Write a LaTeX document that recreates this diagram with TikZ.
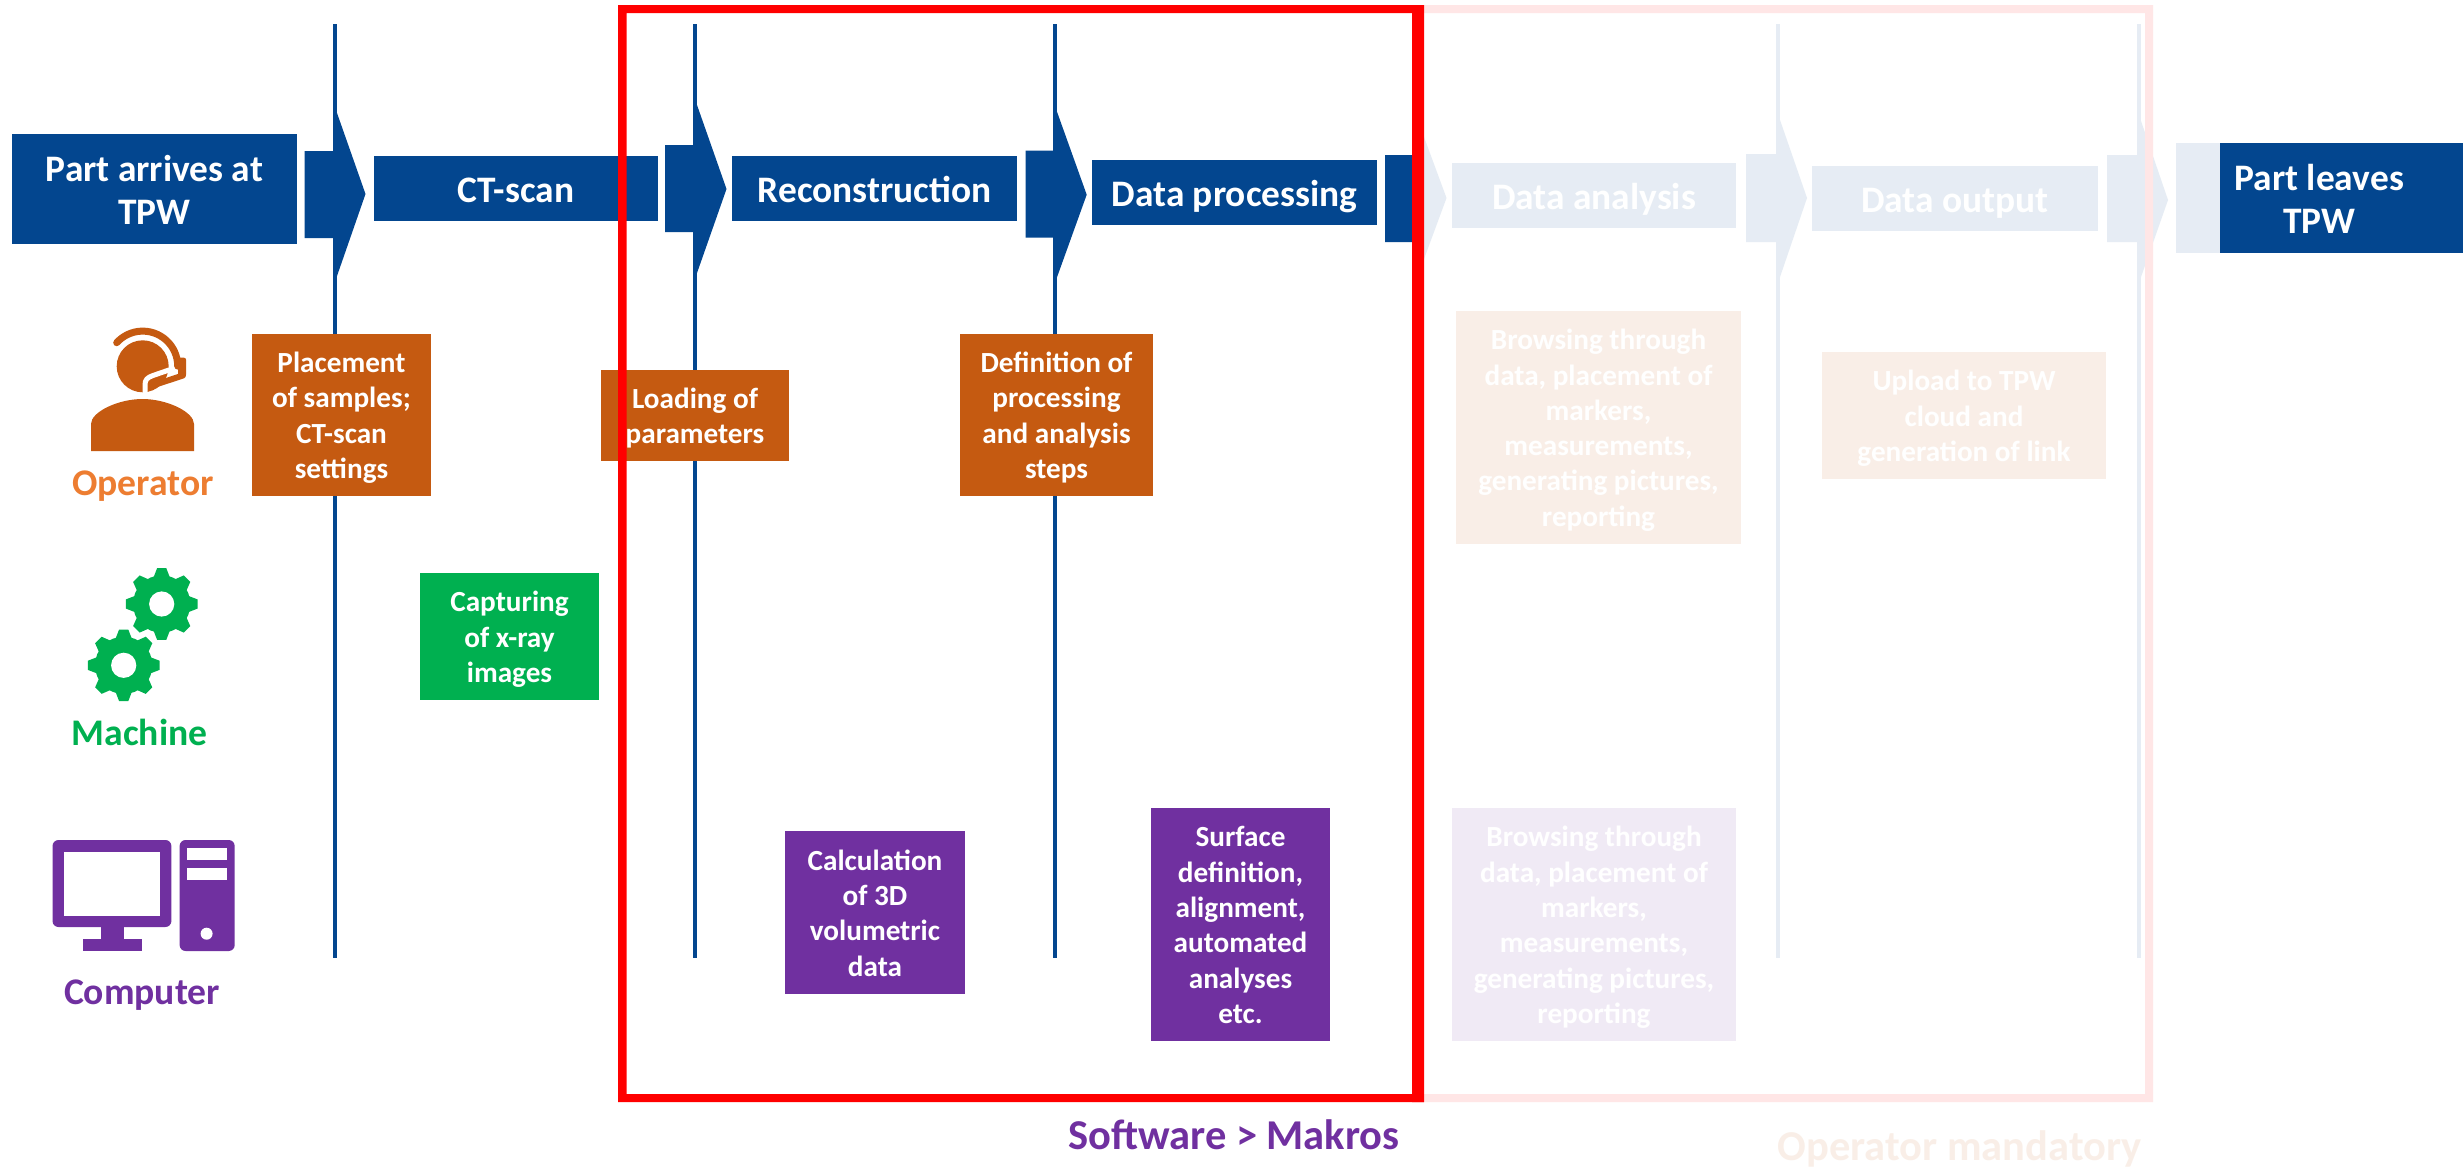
\documentclass[tikz,border=0pt]{standalone}
\usepackage{fontspec}
\setmainfont{Carlito}
\definecolor{tpwblue}{HTML}{03468F}
\definecolor{opbox}{HTML}{C55A11}
\definecolor{oplabel}{HTML}{ED7D31}
\definecolor{machgreen}{HTML}{00B050}
\definecolor{comppurple}{HTML}{7030A0}
\definecolor{framered}{HTML}{FF0000}
\tikzset{
  base box/.style={inner sep=0pt,outer sep=0pt,text=white,font=\fontsize{29.2}{35.3}\selectfont\bfseries},
  title box/.style={base box,fill=tpwblue,font=\fontsize{37.4}{43.5}\selectfont\bfseries},
  op box/.style={base box,fill=opbox},
  mach box/.style={base box,fill=machgreen},
  comp box/.style={base box,fill=comppurple},
  lane label/.style={inner sep=0pt,font=\fontsize{37.6}{45}\selectfont\bfseries},
  caption label/.style={inner sep=0pt,font=\fontsize{42.5}{50}\selectfont\bfseries},
  lane line/.style={draw=tpwblue,line width=4pt},
  flow arrow/.style={fill=tpwblue}
}
% name, style, x1, y1, x2, y2, text
\newcommand{\pbox}[7]{%
  \pgfmathsetmacro{\bw}{#5-(#3)}\pgfmathsetmacro{\bh}{#6-(#4)}%
  \node[#2,minimum width=\bw pt,minimum height=\bh pt] (#1) at ({(#3+#5)/2},{(#4+#6)/2}) {\raisebox{\dimexpr-.25em-2.4pt\relax}[0pt][0pt]{\begin{tabular}{@{}c@{}}#7\end{tabular}}};}
% name, tail x, neck x, tail top, tail bottom, head top, head bottom, tip x, tip y
\newcommand{\flowarrow}[9]{%
  \coordinate (#1) at (#8,#9);
  \fill[flow arrow] (#2,#4) -- (#3,#4) -- (#3,#6) -- (#1) -- (#3,#7) -- (#3,#5) -- (#2,#5) -- cycle;}
\newcommand{\gearicon}[3]{%
  \fill[machgreen] (#2,#3) circle (28.7);
  \foreach \a in {0,45,...,315}{
    \fill[machgreen,shift={(#2,#3)},rotate=\a]
      (27,-8) -- (35.8,-4.6) -- (35.8,4.6) -- (27,8) -- cycle;}
  \fill[white] (#2,#3) circle (12.6);
  \coordinate (#1) at (#2,#3);}
\begin{document}
\begin{tikzpicture}[x=1pt,y=-1pt]
\useasboundingbox (0,0) rectangle (2463,1167);
\fill[white] (0,0) rectangle (2463,1167);
% vertical phase lines
\foreach \n/\x in {a/335,b/695,c/1054.7,d/1778,e/2138.5}{
  \coordinate (lt\n) at (\x,24);
  \coordinate (lb\n) at (\x,958);
  \draw[lane line] (lt\n) -- (lb\n);
}
% process arrows
\flowarrow{tipa}{304.6}{337}{151}{238}{113}{276}{365.5}{194}
\flowarrow{tipb}{665}{697}{145}{232}{105}{273}{726.5}{189}
\flowarrow{tipc}{1025.7}{1056}{150.7}{237.7}{109}{280}{1086.7}{194.7}
\flowarrow{tipd}{1385}{1417}{155}{242}{118}{278}{1446.5}{198}
\flowarrow{tipe}{1746}{1780}{154}{242}{120}{277}{1807}{198}
\flowarrow{tipf}{2107}{2141}{155}{242}{121}{277}{2168}{200}
% title boxes
\pbox{arrive}{title box}{12}{134}{297}{244}{Part arrives at\\TPW}
\pbox{ctscan}{title box}{374}{156}{658}{221}{CT-scan}
\pbox{recon}{title box}{732}{156}{1017}{221}{Reconstruction}
\pbox{dproc}{title box}{1092}{160}{1377}{225}{Data processing}
\pbox{danal}{title box}{1452}{163}{1736}{228}{Data analysis}
\pbox{dout}{title box}{1812}{166}{2098}{231}{Data output}
\pbox{leaves}{title box}{2175.5}{143}{2463}{253}{Part leaves\\TPW}
% operator boxes
\pbox{place}{op box}{252}{334}{431}{496}{Placement\\of samples;\\CT-scan\\settings}
\pbox{load}{op box}{601}{370}{789}{461}{Loading of\\parameters}
\pbox{defn}{op box}{960}{334}{1153}{496}{Definition of\\processing\\and analysis\\steps}
\pbox{brows}{op box}{1456}{311}{1741}{544}{Browsing through\\data, placement of\\markers,\\measurements,\\generating pictures,\\reporting}
\pbox{upl}{op box}{1822}{352}{2106}{479}{Upload to TPW\\cloud and\\generation of link}
% machine box
\pbox{capt}{mach box}{420}{573}{599}{700}{Capturing\\of x-ray\\images}
% computer boxes
\pbox{calc}{comp box}{785}{831}{965}{994}{Calculation\\of 3D\\volumetric\\data}
\pbox{surf}{comp box}{1151}{808}{1330}{1041}{Surface\\definition,\\alignment,\\automated\\analyses\\etc.}
\pbox{browc}{comp box}{1452}{808}{1736}{1041}{Browsing through\\data, placement of\\markers,\\measurements,\\generating pictures,\\reporting}
% operator icon
\fill[opbox] (142.7,366.3) circle (26);
\draw[white,line width=5pt,line cap=round] (169,370) -- (153,375.5) .. controls (147,377.5) and (145,380) .. (145,385) -- (145,394);
\draw[opbox,line width=7pt,line cap=round] (116.7,342.7) arc[start angle=138,end angle=0,x radius=35,y radius=-35];
\fill[opbox,rounded corners=2pt] (178,357.7) rectangle (186,376.7);
\draw[opbox,line width=6pt,line cap=round] (183,375.5) -- (154,385);
\fill[opbox] (91,451) -- (91,424) .. controls (91,412) and (118,399) .. (142.5,399) .. controls (167,399) and (194,412) .. (194,424) -- (194,451) -- cycle;
\node[lane label,text=oplabel] (oplab) at (143,486.5) {Operator};
% machine icon
\gearicon{geara}{161.7}{604}
\gearicon{gearb}{123.7}{665.3}
\node[lane label,text=machgreen] (malab) at (139.5,732.5) {Machine};
% computer icon
\fill[comppurple,rounded corners=6pt] (52.5,840) rectangle (171.4,927);
\fill[white] (64,852) rectangle (160,916);
\fill[comppurple] (100.5,925) rectangle (124,940);
\fill[comppurple] (82.6,939) rectangle (142,951);
\fill[comppurple,rounded corners=6pt] (179.6,840) rectangle (234.7,951);
\fill[white] (187,848) rectangle (227,860);
\fill[white] (187,868) rectangle (227,880);
\fill[white] (206.6,933.7) circle (6);
\node[lane label,text=comppurple] (colab) at (142,995) {Computer};
% bottom captions
\node[caption label,text=comppurple] (softlab) at (1234,1135) {Software > Makros};
\node[caption label,text=opbox] (manlab) at (1959.6,1149) {Operator mandatory};
% second frame
\fill[framered,even odd rule] (1412,5) rectangle (2153,1102) (1412,13) rectangle (2145,1094);
% fading veil
\fill[white,opacity=.9] (1424,0) rectangle (2220,1167);
% first frame
\fill[framered,even odd rule] (618,5) rectangle (1424,1102) (626.5,13) rectangle (1412,1094);
\end{tikzpicture}
\end{document}
